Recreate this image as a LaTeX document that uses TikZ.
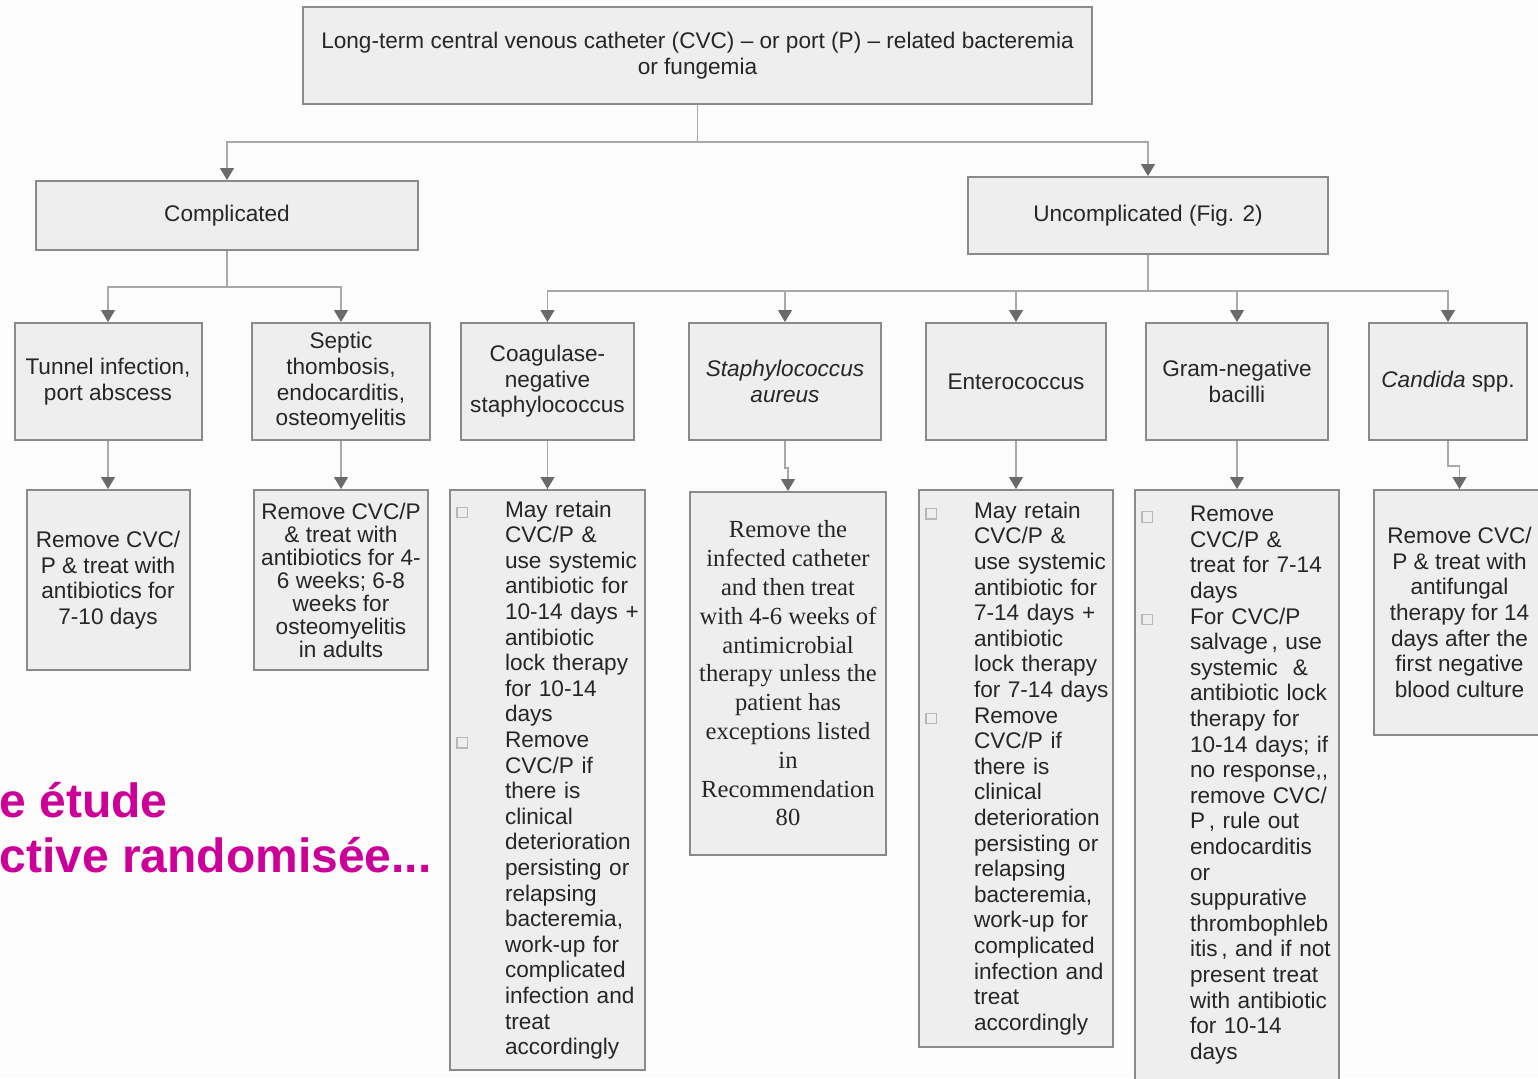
\documentclass[tikz,border=0pt]{standalone}
\usepackage{fontspec}
\setmainfont{Liberation Sans}
\newfontfamily\timesface{Liberation Serif}
\usepackage{tikz}
\usetikzlibrary{arrows.meta,calc,positioning}
\usepackage{xcolor}
\definecolor{ink}{HTML}{262626}
\definecolor{edge}{HTML}{8A8A8A}
\definecolor{panel}{HTML}{EEEEEE}
\definecolor{linkgray}{HTML}{A8A8A8}
\definecolor{tipgray}{HTML}{6A6A6A}
\definecolor{tick}{HTML}{B8B8B8}
\definecolor{slide}{HTML}{CC0099}
\definecolor{paper}{HTML}{FCFCFC}
\newcommand{\itm}{\leavevmode\llap{\textcolor{tick}{\fboxsep=0pt\fboxrule=0.6pt\fbox{\rule{0pt}{4.6pt}\hspace{4.6pt}}}\hspace{18.5pt}}}
\newcommand{\blist}{\leftskip=27.5pt\rightskip=-8pt plus 1fil\relax}

\begin{document}
\begin{tikzpicture}[x=0.5pt, y=-0.5pt, every node/.style={font=\fontsize{11.3}{12.8}\selectfont, text=ink},
      box/.style={draw=edge, line width=1pt, fill=panel, align=center, inner sep=0pt},
      cause/.style={box, minimum height=58.5pt},
      list/.style={box, align=left, text width=#1},
      link/.style={draw=linkgray, line width=0.6pt},
      >={Triangle[width=7pt,length=6pt,color=tipgray]}]
    \useasboundingbox (0,0) rectangle (1538,1078);
    \fill[paper] (0,0) rectangle (1538,1078);
    \node[box, minimum width=394.5pt, minimum height=48.5pt] (top) at (697.5,55.5) {Long-term central venous catheter (CVC) – or port (P) – related bacteremia\\or fungemia};
    \node[box, minimum width=191pt, minimum height=34.5pt] (comp) at (227,215.5) {Complicated};
    \node[box, minimum width=180pt, minimum height=38.5pt] (uncomp) at (1148,215.5) {Uncomplicated (Fig. 2)};
    \node[cause, minimum width=93.5pt] (tunnel) at (108,381.5) {Tunnel infection,\\port abscess};
    \node[cause, minimum width=89pt] (septic) at (341,381.5) {Septic\\thombosis,\\endocarditis,\\osteomyelitis};
    \node[cause, minimum width=86.5pt] (coag) at (547.5,381.5) {Coagulase-\\negative\\staphylococcus};
    \node[cause, minimum width=96pt, font=\fontsize{11.3}{12.8}\selectfont\itshape] (staph) at (785,381.5) {Staphylococcus\\aureus};
    \node[cause, minimum width=90pt] (entero) at (1016,381.5) {Enterococcus};
    \node[cause, minimum width=91pt] (gram) at (1237,381.5) {Gram-negative\\bacilli};
    \node[cause, minimum width=79pt] (cand) at (1448,381.5) {\textit{Candida} spp.};
    \node[box, minimum width=81.5pt, minimum height=90pt] (r1) at (108,580) {Remove CVC/\\P \& treat with\\antibiotics for\\7-10 days};
    \node[box, minimum width=87pt, minimum height=90pt, font=\fontsize{11.3}{11.5}\selectfont] (r2) at (341,580) {Remove CVC/P\\\& treat with\\antibiotics for 4-\\6 weeks; 6-8\\weeks for\\osteomyelitis\\in adults};
    \node[list=97.5pt, minimum height=290pt] (r3) at (547.5,780) {\blist\itm May retain\\CVC/P \&\\use systemic\\antibiotic for\\10-14 days +\\antibiotic\\lock therapy\\for 10-14\\days\\\itm Remove\\CVC/P if\\there is\\clinical\\deterioration\\persisting or\\relapsing\\bacteremia,\\work-up for\\complicated\\infection and\\treat\\accordingly\par};
    \node[box, minimum width=98pt, minimum height=181.5pt, font=\timesface\fontsize{12.3}{14.4}\selectfont] (r4) at (788,673.5) {Remove the\\infected catheter\\and then treat\\with 4-6 weeks of\\antimicrobial\\therapy unless the\\patient has\\exceptions listed\\in\\Recommendation\\80};
    \node[list=97pt, minimum height=278.5pt] (r5) at (1016,768.5) {\blist\itm May retain\\CVC/P \&\\use systemic\\antibiotic for\\7-14 days +\\antibiotic\\lock therapy\\for 7-14 days\\\itm Remove\\CVC/P if\\there is\\clinical\\deterioration\\persisting or\\relapsing\\bacteremia,\\work-up for\\complicated\\infection and\\treat\\accordingly\par};
    \node[list=102pt, minimum height=295pt] (r6) at (1237,785) {\blist\itm Remove\\CVC/P \&\\treat for 7-14\\days\\\itm For CVC/P\\salvage\,, use\\systemic \ \&\\antibiotic lock\\therapy for\\10-14 days; if\\no response,{},\\remove CVC/\\P\,, rule out\\endocarditis\\or\\suppurative\\thrombophleb\\itis\,, and if not\\present treat\\with antibiotic\\for 10-14\\days\par};
    \node[box, minimum width=85.5pt, minimum height=122.5pt] (r7) at (1459.5,612.5) {Remove CVC/\\P \& treat with\\antifungal\\therapy for 14\\days after the\\first negative\\blood culture};
    \node[anchor=south west, align=left, inner sep=0pt, text=slide, font=\fontsize{24}{27.5}\selectfont\bfseries] (note) at (-1,873) {e étude\\ctive randomisée...};
    \coordinate (s1) at (697.5,142); \coordinate (s2) at (227,287); \coordinate (s3) at (1148,291);
    \draw[link] (top) -- (s1); \draw[link, ->] (s1) -| (comp.north); \draw[link, ->] (s1) -| (uncomp.north);
    \draw[link] (comp) -- (s2); \draw[link, ->] (s2) -| (tunnel.north); \draw[link, ->] (s2) -| (septic.north);
    \draw[link] (uncomp) -- (s3);
    \foreach \n in {coag,staph,entero,gram,cand} \draw[link, ->] (s3) -| (\n.north);
    \foreach \a/\b in {tunnel/r1,septic/r2,coag/r3,entero/r5,gram/r6} \draw[link, ->] (\a) -- (\b);
    \draw[link, ->] (staph.south) -- ++(0,27) -| (r4.north); \draw[link, ->] (cand.south) -- ++(0,25) -| (r7.north);
  \end{tikzpicture}
\end{document}
